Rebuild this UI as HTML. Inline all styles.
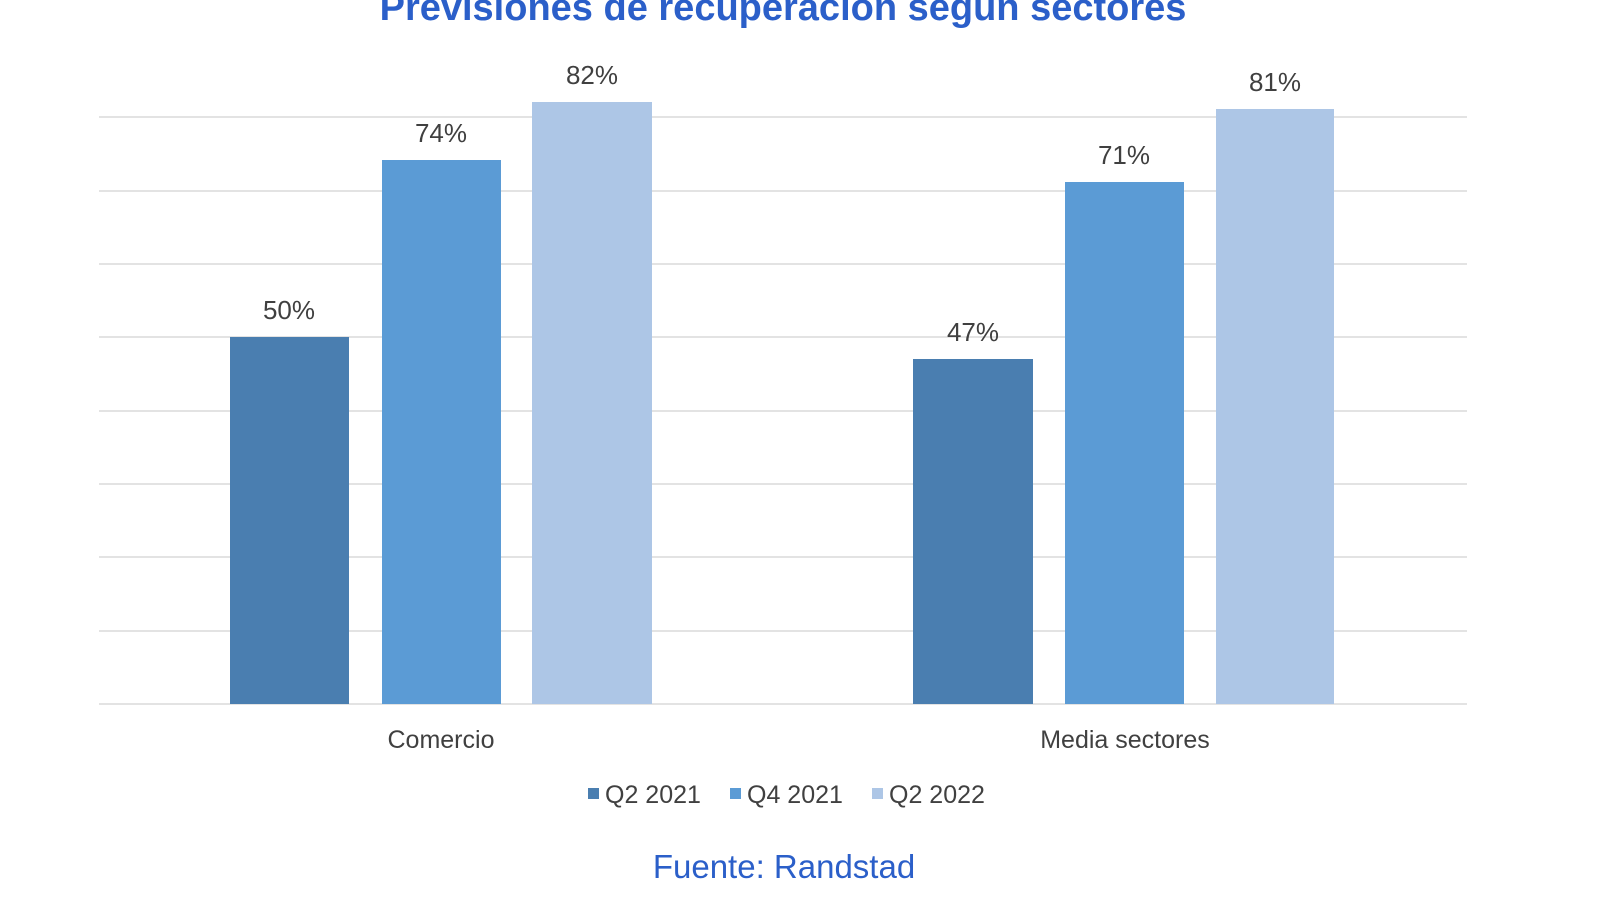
<!DOCTYPE html>
<html><head><meta charset="utf-8"><style>
html,body{margin:0;padding:0;background:#fff;width:1600px;height:900px;overflow:hidden}
svg{display:block}
</style></head><body>
<svg width="1600" height="900" viewBox="0 0 1600 900" font-family="'Liberation Sans', 'DejaVu Sans', sans-serif">
<text x="783" y="20" text-anchor="middle" font-size="38" font-weight="bold" fill="#2b5fc9">Previsiones de recuperación según sectores</text>
<g transform="translate(-1,0)">
<g stroke="#e3e3e3" stroke-width="2">
<line x1="100" x2="1468" y1="117" y2="117"/>
<line x1="100" x2="1468" y1="191" y2="191"/>
<line x1="100" x2="1468" y1="264" y2="264"/>
<line x1="100" x2="1468" y1="337" y2="337"/>
<line x1="100" x2="1468" y1="411" y2="411"/>
<line x1="100" x2="1468" y1="484" y2="484"/>
<line x1="100" x2="1468" y1="557" y2="557"/>
<line x1="100" x2="1468" y1="631" y2="631"/>
<line x1="100" x2="1468" y1="704" y2="704"/>
</g>
<rect x="231" y="337" width="119" height="367" fill="#4a7eb0"/>
<rect x="383" y="160" width="119" height="544" fill="#5b9bd5"/>
<rect x="533" y="102" width="120" height="602" fill="#adc6e6"/>
<rect x="914" y="359" width="120" height="345" fill="#4a7eb0"/>
<rect x="1066" y="182" width="119" height="522" fill="#5b9bd5"/>
<rect x="1217" y="109" width="118" height="595" fill="#adc6e6"/>
<g font-size="26" fill="#404040" text-anchor="middle">
<text x="290" y="319">50%</text>
<text x="442" y="142">74%</text>
<text x="593" y="84">82%</text>
<text x="974" y="341">47%</text>
<text x="1125" y="164">71%</text>
<text x="1276" y="91">81%</text>
<text x="442" y="748" font-size="25">Comercio</text>
<text x="1126" y="748" font-size="25">Media sectores</text>
</g>
<g font-size="25" fill="#404040">
<rect x="589" y="788" width="11" height="11" fill="#4a7eb0"/>
<text x="606" y="803">Q2 2021</text>
<rect x="731" y="788" width="11" height="11" fill="#5b9bd5"/>
<text x="748" y="803">Q4 2021</text>
<rect x="873" y="788" width="11" height="11" fill="#adc6e6"/>
<text x="890" y="803">Q2 2022</text>
</g>
<text x="785" y="878" text-anchor="middle" font-size="33" fill="#2b5fc9">Fuente: Randstad</text>
</g>
</svg>
</body></html>
